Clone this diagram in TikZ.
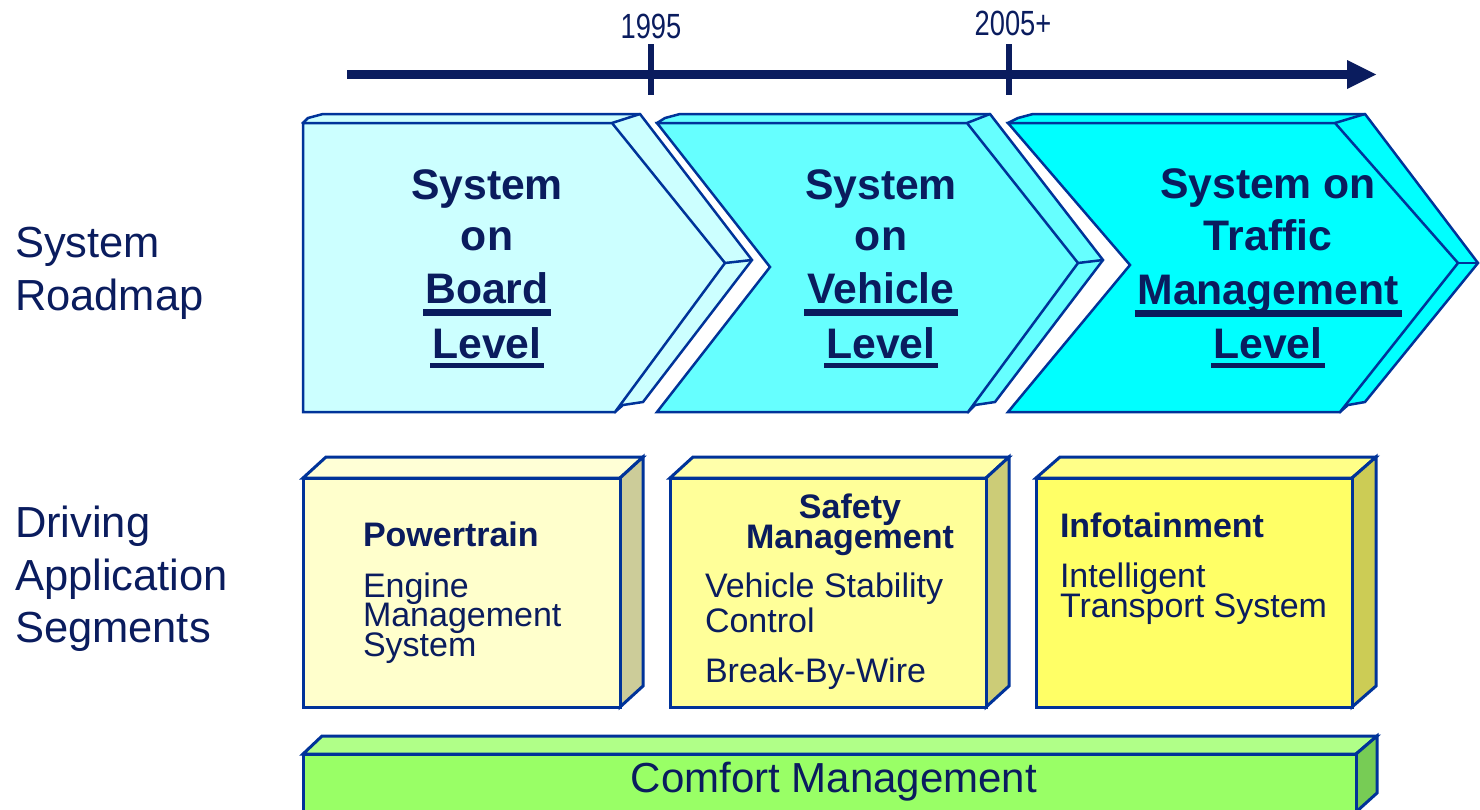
\documentclass[tikz,border=0pt]{standalone}
\usepackage{fontspec}
\setmainfont{Liberation Sans}
\newcommand\tightlines{\lineskiplimit=-60pt\relax}
\definecolor{navy}{HTML}{0A1C5E}
\definecolor{edgeblue}{HTML}{003399}
\definecolor{cyA}{HTML}{CCFFFF}
\definecolor{cyB}{HTML}{66FFFF}
\definecolor{cyC}{HTML}{00FFFF}
\definecolor{ylAf}{HTML}{FFFFCC}
\definecolor{ylAt}{HTML}{FFFFD6}
\definecolor{ylAs}{HTML}{CCCC99}
\definecolor{ylBf}{HTML}{FFFF99}
\definecolor{ylBt}{HTML}{FFFFAA}
\definecolor{ylBs}{HTML}{CCCC77}
\definecolor{ylCf}{HTML}{FFFF66}
\definecolor{ylCt}{HTML}{FFFF88}
\definecolor{ylCs}{HTML}{CCCC55}
\definecolor{grf}{HTML}{99FF66}
\definecolor{grt}{HTML}{B0FF88}
\definecolor{grs}{HTML}{77CC55}
\begin{document}
\begin{tikzpicture}[x=1pt,y=-1pt,
  edge/.style={draw=edgeblue, line width=2.5pt, line join=miter},
  boxedge/.style={draw=edgeblue, line width=3pt, line join=miter},
  lbl/.style={inner sep=0pt, outer sep=0pt, text=navy},
  chevtxt/.style={lbl, anchor=base, font=\fontsize{42.7}{50}\selectfont\bfseries},
  sidetxt/.style={lbl, anchor=base west, font=\fontsize{43.5}{50}\selectfont},
  headtxt/.style={lbl, font=\fontsize{34}{40}\selectfont\bfseries},
  bodytxt/.style={lbl, anchor=base west, font=\fontsize{34}{40}\selectfont},
  yeartxt/.style={lbl, anchor=base, xscale=0.78, font=\fontsize{35}{40}\selectfont},
  ulthick/.style={navy, line width=7pt},
  ulthin/.style={navy, line width=5pt}]
\useasboundingbox (0,0) rectangle (1480,809);

% ---------- timeline ----------
\coordinate (t0) at (347,74.5);
\coordinate (t1) at (1350,74.5);
\coordinate (tA) at (1347,60);
\coordinate (tB) at (1376,74.5);
\coordinate (tC) at (1347,89);
\draw[navy, line width=9pt] (t0) -- (t1);
\fill[navy] (tA) -- (tB) -- (tC) -- cycle;
\coordinate (k1a) at (651,44);
\coordinate (k1b) at (651,95);
\coordinate (k2a) at (1009,44);
\coordinate (k2b) at (1009,95);
\draw[navy, line width=6pt] (k1a) -- (k1b);
\draw[navy, line width=6pt] (k2a) -- (k2b);
\node[yeartxt] (y1995) at (651,38) {1995};
\node[yeartxt] (y2005) at (1013,35) {2005+};

% ---------- chevron 1 ----------
\path[edge, fill=cyA] (303,123) -- (308,118) -- (323,114) -- (640,114) -- (752,260) -- (643,402) -- (623,405) -- (615,412) -- cycle;
\path[edge, fill=cyA] (303,123) -- (612,123) -- (725,263) -- (615,412) -- (303,412) -- cycle;
\draw[edge] (612,123) -- (640,114);
\draw[edge] (725,263) -- (752,260);

% ---------- chevron 2 ----------
\path[edge, fill=cyB] (657,123) -- (665,118) -- (680,114) -- (990,114) -- (1103,260) -- (995,402) -- (975,405) -- (968,412) -- (800,258) -- cycle;
\path[edge, fill=cyB] (657,123) -- (967,123) -- (1078,263) -- (968,412) -- (657,412) -- (770,267) -- cycle;
\draw[edge] (967,123) -- (990,114);
\draw[edge] (1078,263) -- (1103,260);

% ---------- chevron 3 ----------
\path[edge, fill=cyC] (1008,123) -- (1018,118) -- (1033,114) -- (1365,114) -- (1478,263) -- (1365,402) -- (1348,405) -- (1340,412) -- (1160,258) -- cycle;
\path[edge, fill=cyC] (1008,123) -- (1335,123) -- (1458,263) -- (1340,412) -- (1008,412) -- (1130,265) -- cycle;
\draw[edge] (1335,123) -- (1365,114);
\draw[edge] (1458,263) -- (1478,263);

% ---------- chevron texts ----------
\node[chevtxt] (c1a) at (487,199) {System};
\node[chevtxt] (c1b) at (487,250) {on};
\node[chevtxt] (c1c) at (487,303) {Board};
\node[chevtxt] (c1d) at (487,358) {Level};
\draw[ulthick] ([xshift=-2pt,yshift=-9pt]c1c.base west) -- ([xshift=2pt,yshift=-9pt]c1c.base east);
\draw[ulthin] ([xshift=-2pt,yshift=-7pt]c1d.base west) -- ([xshift=2pt,yshift=-7pt]c1d.base east);

\node[chevtxt] (c2a) at (881,199) {System};
\node[chevtxt] (c2b) at (881,250) {on};
\node[chevtxt] (c2c) at (881,303) {Vehicle};
\node[chevtxt] (c2d) at (881,358) {Level};
\draw[ulthick] ([xshift=-3pt,yshift=-9pt]c2c.base west) -- ([xshift=3pt,yshift=-9pt]c2c.base east);
\draw[ulthin] ([xshift=-2pt,yshift=-7pt]c2d.base west) -- ([xshift=2pt,yshift=-7pt]c2d.base east);

\node[chevtxt] (c3a) at (1268,198) {System on};
\node[chevtxt] (c3b) at (1268,250) {Traffic};
\node[chevtxt] (c3c) at (1268,304) {Management};
\node[chevtxt] (c3d) at (1268,358) {Level};
\draw[ulthick] ([xshift=-3pt,yshift=-9pt]c3c.base west) -- ([xshift=3pt,yshift=-9pt]c3c.base east);
\draw[ulthin] ([xshift=-2pt,yshift=-7pt]c3d.base west) -- ([xshift=2pt,yshift=-7pt]c3d.base east);

% ---------- side labels ----------
\node[sidetxt] (s1) at (15,257) {System};
\node[sidetxt] (s2) at (15,310) {Roadmap};
\node[sidetxt] (s3) at (15,537) {Driving};
\node[sidetxt] (s4) at (15,590) {Application};
\node[sidetxt] (s5) at (15,642) {Segments};

% ---------- box 1 ----------
\path[boxedge, fill=ylAt] (303,478) -- (326,457) -- (643,457) -- (620,478) -- cycle;
\path[boxedge, fill=ylAs] (620,478) -- (643,457) -- (643,686) -- (620,707) -- cycle;
\path[boxedge, fill=ylAf] (303,478) rectangle (620,707);
\node[headtxt, anchor=base west] (p1) at (363,546) {Powertrain};
\node[bodytxt, align=left, font={\fontsize{34}{29.5}\selectfont\tightlines}] (p2) at (363,656) {Engine\\Management\\System};

% ---------- box 2 ----------
\path[boxedge, fill=ylBt] (670,478) -- (693,457) -- (1009,457) -- (986,478) -- cycle;
\path[boxedge, fill=ylBs] (986,478) -- (1009,457) -- (1009,686) -- (986,707) -- cycle;
\path[boxedge, fill=ylBf] (670,478) rectangle (986,707);
\node[headtxt, anchor=base, align=center, font={\fontsize{34}{30}\selectfont\bfseries\tightlines}] (q1) at (850,548) {Safety\\Management};
\node[bodytxt, align=left, font={\fontsize{34}{35}\selectfont\tightlines}] (q3) at (705,632) {Vehicle Stability\\Control};
\node[bodytxt] (q5) at (705,682) {Break-By-Wire};

% ---------- box 3 ----------
\path[boxedge, fill=ylCt] (1036,478) -- (1060,457) -- (1376,457) -- (1352,478) -- cycle;
\path[boxedge, fill=ylCs] (1352,478) -- (1376,457) -- (1376,686) -- (1352,707) -- cycle;
\path[boxedge, fill=ylCf] (1036,478) rectangle (1352,707);
\node[headtxt, anchor=base west] (r1) at (1060,537) {Infotainment};
\node[bodytxt, align=left, font={\fontsize{34}{30}\selectfont\tightlines}] (r2) at (1060,617) {Intelligent\\Transport System};

% ---------- comfort bar ----------
\path[boxedge, fill=grt] (303,754) -- (322,736) -- (1377,736) -- (1356,754) -- cycle;
\path[boxedge, fill=grs] (1356,754) -- (1377,736) -- (1377,793) -- (1356,812) -- cycle;
\path[boxedge, fill=grf] (303,754) rectangle (1356,814);
\node[lbl, anchor=base, font=\fontsize{42}{48}\selectfont] (cm) at (834,792) {Comfort Management};
\end{tikzpicture}
\end{document}
